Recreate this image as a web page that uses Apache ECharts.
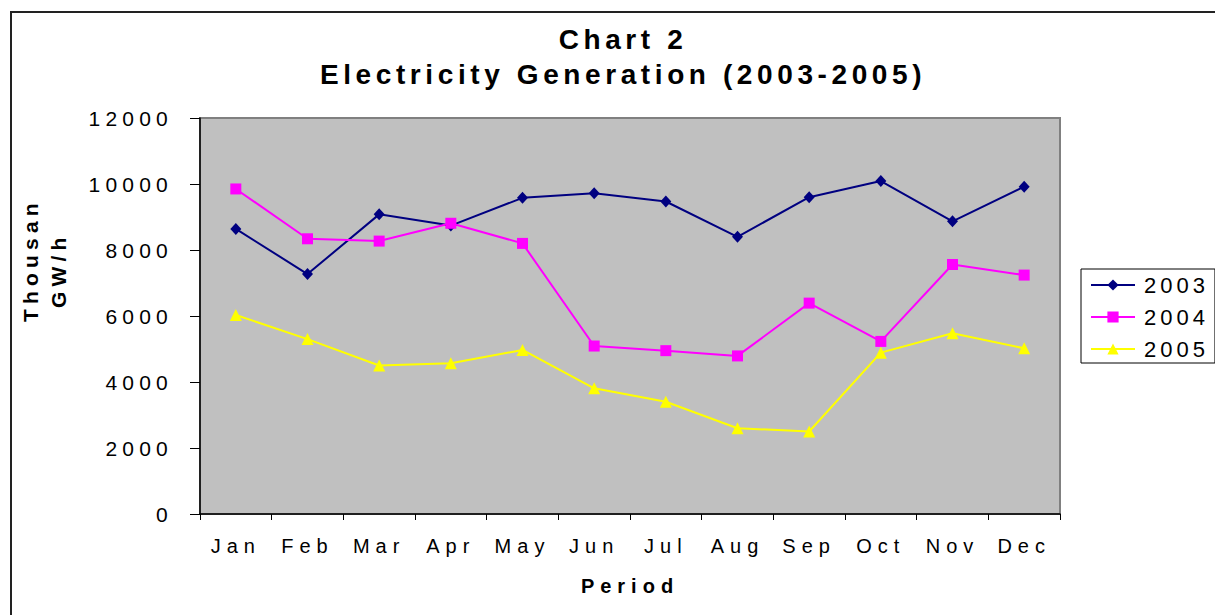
<!DOCTYPE html>
<html>
<head>
<meta charset="utf-8">
<title>Electricity Generation</title>
<script src="https://cdn.jsdelivr.net/npm/echarts@6/dist/echarts.min.js"></script>
<style>
  html, body { margin: 0; padding: 0; background: #fff; }
  #chart { width: 1215px; height: 615px; }
  /* spaced-out lettering like the original spreadsheet chart */
  #chart text { letter-spacing: 5px; }
  #chart text[style*="28px"] { letter-spacing: 4.6px; }
  #chart text[style*="21px"] { letter-spacing: 5.2px; }
  #chart text[style*="20px"] { letter-spacing: 6px; }
  #chart text[style*="22px"] { letter-spacing: 4px; }
</style>
</head>
<body>
<div id="chart"></div>
<script>
var months = ['Jan', 'Feb', 'Mar', 'Apr', 'May', 'Jun', 'Jul', 'Aug', 'Sep', 'Oct', 'Nov', 'Dec'];
var gen2003 = [8640, 7270, 9080, 8740, 9580, 9720, 9470, 8400, 9600, 10090, 8870, 9920];
var gen2004 = [9850, 8340, 8270, 8810, 8200, 5090, 4950, 4790, 6390, 5230, 7560, 7240];
var gen2005 = [6030, 5300, 4500, 4570, 4970, 3810, 3400, 2600, 2500, 4890, 5480, 5020];
var yTicks = [0, 2000, 4000, 6000, 8000, 10000, 12000];

var font = 'Liberation Sans, Arial, sans-serif';

var chart = echarts.init(document.getElementById('chart'), null, { renderer: 'svg' });

function lineSeries(name, data, color, symbol, size) {
  return {
    name: name,
    type: 'line',
    data: data,
    symbol: symbol,
    symbolSize: size,
    showAllSymbol: true,
    lineStyle: { color: color, width: 2 },
    itemStyle: { color: color },
    emphasis: { disabled: true },
    animation: false
  };
}

var option = {
  backgroundColor: '#ffffff',
  animation: false,
  title: [{
    text: 'Chart 2',
    left: 618,
    top: 20,
    textAlign: 'center',
    textStyle: { fontFamily: font, fontSize: 28, fontWeight: 'bold', color: '#000' }
  }, {
    text: 'Electricity Generation (2003-2005)',
    left: 618,
    top: 55,
    textAlign: 'center',
    textStyle: { fontFamily: font, fontSize: 28, fontWeight: 'bold', color: '#000' }
  }],
  legend: {
    orient: 'vertical',
    left: 1081,
    top: 269,
    padding: [5, 22, 3, 9],
    itemWidth: 44,
    itemHeight: 14,
    itemGap: 10,
    backgroundColor: '#ffffff',
    borderColor: '#000000',
    borderWidth: 1,
    borderRadius: 0,
    textStyle: { fontFamily: font, fontSize: 22, color: '#000', padding: [0, 0, 0, 4] },
    data: ['2003', '2004', '2005']
  },
  grid: {
    left: 200,
    right: 155,
    top: 118,
    bottom: 101,
    show: true,
    backgroundColor: '#c0c0c0',
    borderColor: '#808080',
    borderWidth: 2
  },
  xAxis: {
    type: 'category',
    data: months,
    boundaryGap: true,
    name: 'Period',
    nameLocation: 'middle',
    nameGap: 62,
    nameTextStyle: { fontFamily: font, fontSize: 20, fontWeight: 'bold', color: '#000' },
    axisLine: { lineStyle: { color: '#000', width: 1.5 } },
    axisTick: { show: true, length: 6, lineStyle: { color: '#000' } },
    axisLabel: { fontFamily: font, fontSize: 20, color: '#000', margin: 22, interval: 0 },
    splitLine: { show: false }
  },
  yAxis: {
    type: 'value',
    min: yTicks[0],
    max: yTicks[yTicks.length - 1],
    interval: yTicks[1] - yTicks[0],
    axisLine: { show: true, lineStyle: { color: '#000', width: 1.5 } },
    axisTick: { show: true, length: 10, lineStyle: { color: '#000' } },
    axisLabel: {
      fontFamily: font, fontSize: 21, color: '#000', margin: 27,
      formatter: function (v) { return String(v); }
    },
    splitLine: { show: false }
  },
  graphic: [{
    type: 'rect',
    z: -10,
    silent: true,
    shape: { x: 11, y: 12, width: 1300, height: 700 },
    style: { fill: 'none', stroke: '#222', lineWidth: 2 }
  }, {
    type: 'text',
    x: 30,
    y: 322,
    rotation: Math.PI / 2,
    style: {
      text: 'Thousan',
      fontFamily: font, fontSize: 21, fontWeight: 'bold', fill: '#000',
      align: 'left', verticalAlign: 'middle'
    }
  }, {
    type: 'text',
    x: 58,
    y: 308,
    rotation: Math.PI / 2,
    style: {
      text: 'GW/h',
      fontFamily: font, fontSize: 21, fontWeight: 'bold', fill: '#000',
      align: 'left', verticalAlign: 'middle'
    }
  }],
  series: [
    lineSeries('2003', gen2003, '#000080', 'diamond', [11, 12]),
    lineSeries('2004', gen2004, '#ff00ff', 'rect', 11),
    lineSeries('2005', gen2005, '#ffff00', 'triangle', 12)
  ]
};

chart.setOption(option);
</script>
</body>
</html>
